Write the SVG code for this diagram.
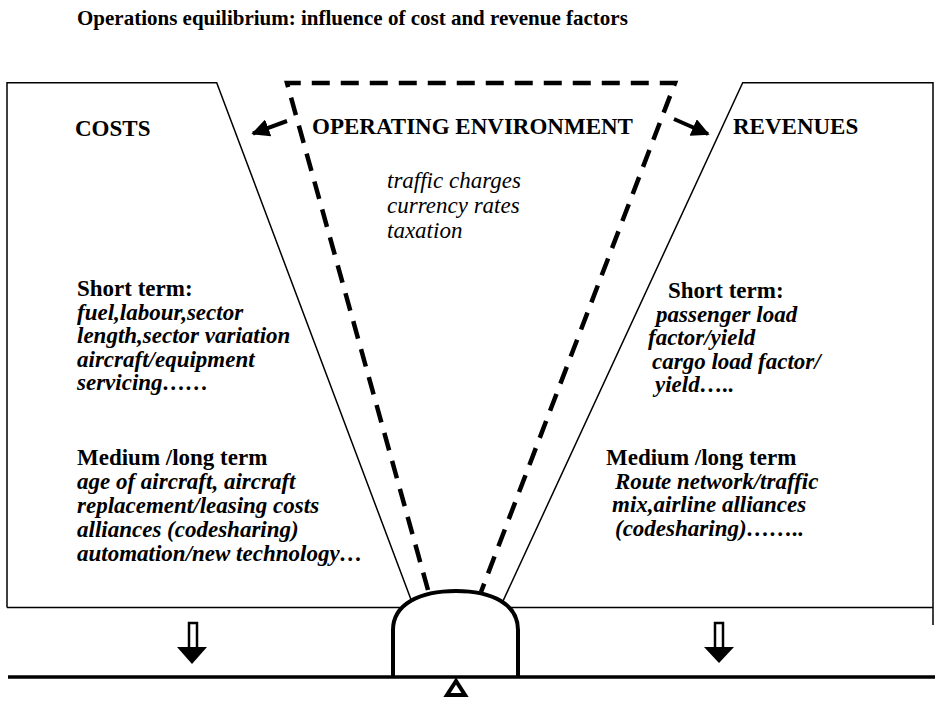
<svg xmlns="http://www.w3.org/2000/svg" width="938" height="701" viewBox="0 0 938 701">
  <style>
    text { font-family: "Liberation Serif", "Times New Roman", serif; fill: #000; }
    .title { font-size: 21px; font-weight: bold; }
    .head { font-size: 23px; font-weight: bold; }
    .item { font-size: 23px; font-weight: bold; font-style: italic; }
    .env { font-size: 23px; font-style: italic; }
    .thin { fill: none; stroke: #000; stroke-width: 1.5; }
    .dash { fill: none; stroke: #000; stroke-width: 4.5; stroke-dasharray: 18 11; }
    .heavy { stroke: #000; stroke-width: 4; }
  </style>
  <defs>
    <marker id="head" viewBox="0 0 10 10" refX="9" refY="5" markerWidth="4.5" markerHeight="4.5" orient="auto" markerUnits="strokeWidth">
      <path d="M0,0 L10,5 L0,10 Z" fill="#000"/>
    </marker>
  </defs>

  <rect width="938" height="701" fill="#fff"/>

  <text class="title" x="77" y="25">Operations equilibrium: influence of cost and revenue factors</text>

  <!-- cost panel -->
  <g id="costs">
    <path class="thin" d="M7,607.5 V82.7 H216.7 L414,607.5"/>
    <text class="head" x="75" y="136">COSTS</text>
    <text class="head" x="77" y="296">Short term:</text>
    <text class="item" x="77" y="319.5">fuel,labour,sector</text>
    <text class="item" x="77" y="343">length,sector variation</text>
    <text class="item" x="77" y="366.5">aircraft/equipment</text>
    <text class="item" x="77" y="390">servicing……</text>
    <text class="head" x="77" y="465">Medium /long term</text>
    <text class="item" x="77" y="489">age of aircraft, aircraft</text>
    <text class="item" x="77" y="513">replacement/leasing costs</text>
    <text class="item" x="77" y="537">alliances (codesharing)</text>
    <text class="item" x="77" y="561">automation/new technology…</text>
  </g>

  <!-- revenue panel -->
  <g id="revenues">
    <path class="thin" d="M500,607.5 L742.7,82.7 H933 V625"/>
    <text class="head" x="733" y="134">REVENUES</text>
    <text class="head" x="668" y="298">Short term:</text>
    <text class="item" x="656" y="321.5">passenger load</text>
    <text class="item" x="648" y="345">factor/yield</text>
    <text class="item" x="652" y="368.5">cargo load factor/</text>
    <text class="item" x="655" y="392">yield…..</text>
    <text class="head" x="606" y="465">Medium /long term</text>
    <text class="item" x="615" y="488.5">Route network/traffic</text>
    <text class="item" x="612" y="512">mix,airline alliances</text>
    <text class="item" x="615" y="535.5">(codesharing)……..</text>
  </g>

  <!-- operating environment funnel -->
  <g id="environment">
    <path class="dash" d="M428,590 L287,83 H675 L481,592"/>
    <text class="head" x="312" y="134">OPERATING ENVIRONMENT</text>
    <text class="env" x="387" y="188">traffic charges</text>
    <text class="env" x="387" y="213">currency rates</text>
    <text class="env" x="387" y="238">taxation</text>
  </g>

  <!-- balance base -->
  <line x1="7" y1="607.5" x2="933" y2="607.5" stroke="#000" stroke-width="1.5"/>
  <g id="pivot">
    <path class="heavy" fill="#fff" d="M393,677 V630 C393,604 420,591 456,591 C492,591 518,604 518,630 V677"/>
    <polygon class="heavy" fill="#fff" stroke-width="3.5" points="456,681 447,695 465,695"/>
  </g>
  <line x1="8" y1="677" x2="935" y2="677" stroke="#000" stroke-width="3.5"/>

  <g id="connectors">
    <line x1="287" y1="121" x2="253" y2="133.5" stroke="#000" stroke-width="4" marker-end="url(#head)"/>
    <line x1="674" y1="119" x2="708" y2="134" stroke="#000" stroke-width="4" marker-end="url(#head)"/>
    <!-- down block arrows -->
    <rect x="189" y="623" width="8" height="26" fill="#fff" stroke="#000" stroke-width="2.5"/>
    <polygon points="177,647 207,647 192,664" fill="#000"/>
    <rect x="715" y="623" width="8" height="26" fill="#fff" stroke="#000" stroke-width="2.5"/>
    <polygon points="704,647 734,647 719,663" fill="#000"/>
  </g>
</svg>
